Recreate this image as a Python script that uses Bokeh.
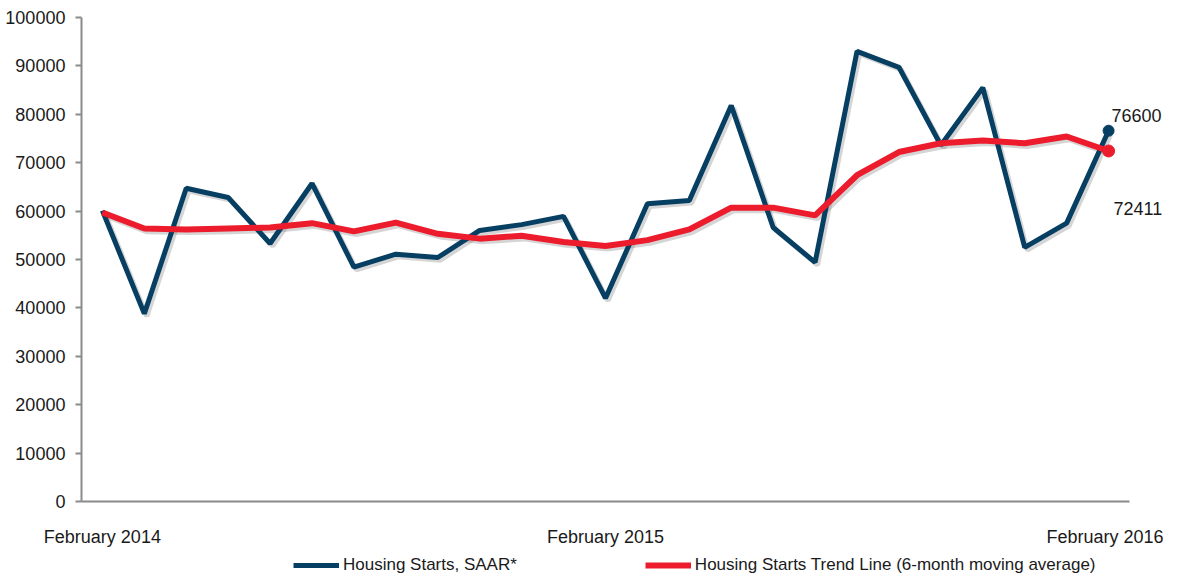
from bokeh.plotting import figure
from bokeh.models import Range1d, FixedTicker, Legend, LegendItem, Label
from bokeh.embed import file_html
from bokeh.resources import INLINE

months = ["February 2014", "March 2014", "April 2014", "May 2014", "June 2014", "July 2014",
          "August 2014", "September 2014", "October 2014", "November 2014", "December 2014",
          "January 2015", "February 2015", "March 2015", "April 2015", "May 2015", "June 2015",
          "July 2015", "August 2015", "September 2015", "October 2015", "November 2015",
          "December 2015", "January 2016", "February 2016"]
starts = [60100, 38800, 64700, 62800, 53300, 65700, 48400, 51100, 50400, 56000, 57200, 58900,
          42000, 61500, 62200, 81800, 56600, 49400, 93000, 89700, 73600, 85500, 52500, 57500, 76600]
trend = [59700, 56400, 56200, 56400, 56600, 57500, 55800, 57600, 55300, 54300, 54900, 53600,
         52800, 54000, 56200, 60700, 60700, 59100, 67400, 72200, 74000, 74600, 74000, 75400, 72411]
tick_idx = [0, 12, 24]

FONT = "Liberation Sans"
BLUE = "#073F63"
RED = "#EC1C2D"

x = list(range(len(months)))
n = len(months)

p = figure(width=1163, height=576, output_backend="svg", toolbar_location=None,
           x_range=Range1d(-2.43, 25.31), y_range=Range1d(-15500, 103500),
           min_border_left=0, min_border_right=0, min_border_top=0, min_border_bottom=0)
p.outline_line_color = None
p.grid.grid_line_color = None
p.background_fill_color = "white"
p.border_fill_color = "white"

# shadows
sx = [v + 0.06 for v in x]
p.line(sx, [v - 550 for v in starts], line_color="#888888", line_alpha=0.35, line_width=5)
p.line(sx, [v - 550 for v in trend], line_color="#888888", line_alpha=0.35, line_width=6)

r1 = p.line(x, starts, line_color=BLUE, line_width=5)
r2 = p.line(x, trend, line_color=RED, line_width=6)
p.scatter([x[-1]], [starts[-1]], size=11, color=BLUE)
p.scatter([x[-1]], [trend[-1]], size=12, color=RED)

p.add_layout(Label(x=x[-1], y=starts[-1], text=str(starts[-1]), x_offset=3, y_offset=15,
                   text_baseline="middle", text_font=FONT, text_font_size="18px",
                   text_color="#1a1a1a"))
p.add_layout(Label(x=x[-1], y=trend[-1], text=str(trend[-1]), x_offset=5, y_offset=-58,
                   text_baseline="middle", text_font=FONT, text_font_size="18px",
                   text_color="#1a1a1a"))

p.xaxis.ticker = FixedTicker(ticks=tick_idx)
p.xaxis.major_label_overrides = {i: months[i] for i in tick_idx}
p.xaxis.bounds = (-0.5, n - 0.5)
p.xaxis.fixed_location = 0
p.yaxis.ticker = FixedTicker(ticks=list(range(0, 100001, 10000)))
p.yaxis.bounds = (0, 100000)
p.yaxis.fixed_location = -0.5
p.yaxis.formatter.use_scientific = False

for ax in (p.xaxis, p.yaxis):
    ax.axis_line_color = "#8a8a8a"
    ax.axis_line_width = 2
    ax.major_label_text_font = FONT
    ax.major_label_text_font_size = "18px"
    ax.major_label_text_color = "#1a1a1a"
    ax.minor_tick_line_color = None
p.yaxis.major_tick_line_color = "#8a8a8a"
p.yaxis.major_tick_line_width = 2
p.yaxis.major_tick_out = 6
p.yaxis.major_tick_in = 0
p.yaxis.major_label_standoff = 10
p.xaxis.major_tick_line_color = None
p.xaxis.major_label_standoff = 20

legend = Legend(items=[LegendItem(label="Housing Starts, SAAR*", renderers=[r1]),
                       LegendItem(label="Housing Starts Trend Line (6-month moving average)", renderers=[r2])],
                orientation="horizontal", location=(293, 1), spacing=128,
                glyph_width=46, glyph_height=20, label_standoff=4,
                label_text_font=FONT, label_text_font_size="17px", label_text_color="#1a1a1a",
                border_line_color=None, background_fill_alpha=0, padding=0, margin=0)
p.add_layout(legend, "center")

open("out.html", "w").write(file_html(p, INLINE))
